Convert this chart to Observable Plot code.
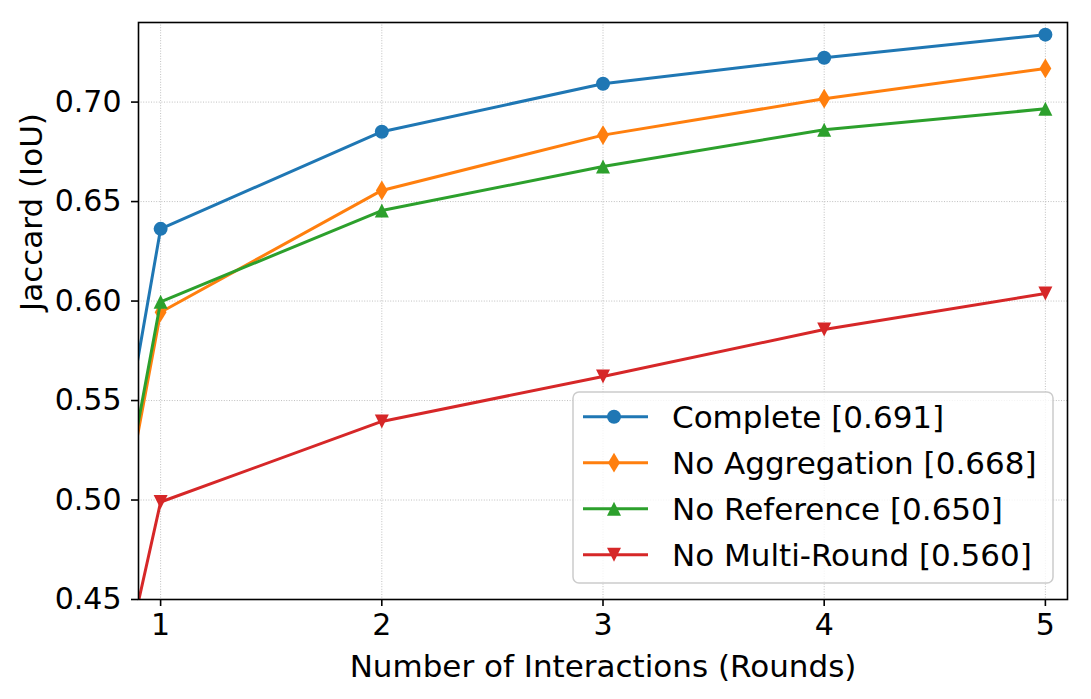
<!DOCTYPE html>
<html><head><meta charset="utf-8">
<script src="https://cdn.jsdelivr.net/npm/d3@7"></script>
<script src="https://cdn.jsdelivr.net/npm/@observablehq/plot@0.6"></script>
<style>
body{margin:0;background:#fff;font-family:"DejaVu Sans",sans-serif;}
#wrap{position:relative;width:1091px;height:699px;overflow:hidden;}
#legend{position:absolute;left:572px;top:391px;}
</style></head><body><div id="wrap"></div>
<script>
// ---- data ----
const rounds = [0, 1, 2, 3, 4, 5];
const seriesNames = ["Complete [0.691]", "No Aggregation [0.668]", "No Reference [0.650]", "No Multi-Round [0.560]"];
const complete      = [0, 0.6363, 0.6851, 0.7092, 0.7223, 0.7339];
const noAggregation = [0, 0.5944, 0.6556, 0.6834, 0.7017, 0.7169];
const noReference   = [0, 0.5996, 0.6455, 0.6676, 0.6861, 0.6966];
const noMultiRound  = [0, 0.4990, 0.5395, 0.5621, 0.5857, 0.6038];
const colors = ["#1f77b4", "#ff7f0e", "#2ca02c", "#d62728"];
const xTicks = [1, 2, 3, 4, 5];
const yTicks = [0.45, 0.50, 0.55, 0.60, 0.65, 0.70];
const xLabel = "Number of Interactions (Rounds)";
const yLabel = "Jaccard (IoU)";

// ---- symbols (matplotlib-like) ----
const symThinDiamond = {draw(ctx, size){const r=Math.sqrt(size/Math.PI);const h=Math.SQRT2*r,w=0.6*h;ctx.moveTo(0,-h);ctx.lineTo(w,0);ctx.lineTo(0,h);ctx.lineTo(-w,0);ctx.closePath();}};
const symTriUp = {draw(ctx, size){const r=Math.sqrt(size/Math.PI);ctx.moveTo(0,-r);ctx.lineTo(r,r);ctx.lineTo(-r,r);ctx.closePath();}};
const symTriDown = {draw(ctx, size){const r=Math.sqrt(size/Math.PI);ctx.moveTo(0,r);ctx.lineTo(r,-r);ctx.lineTo(-r,-r);ctx.closePath();}};
const symbols = [d3.symbolCircle, symThinDiamond, symTriUp, symTriDown];

const seriesValues = [complete, noAggregation, noReference, noMultiRound];
const data = seriesNames.flatMap((s, i) => rounds.map((r, j) => ({series: s, idx: i, round: r, value: seriesValues[i][j]})));

const seriesMarks = seriesNames.flatMap((s, i) => {
  const d = data.filter(e => e.idx === i);
  return [
    Plot.line(d, {x: "round", y: "value", stroke: colors[i], strokeWidth: 3, clip: true}),
    Plot.dot(d.filter(e => e.round > 0), {x: "round", y: "value", fill: colors[i], stroke: "none", symbol: symbols[i], r: 7, clip: true})
  ];
});

const chart = Plot.plot({
  width: 1091, height: 699,
  marginLeft: 138, marginRight: 24, marginTop: 22, marginBottom: 100,
  style: {fontFamily: "DejaVu Sans", fontSize: "30px", color: "black", background: "white", overflow: "visible"},
  x: {domain: [0.9, 5.1]},
  y: {domain: [0.45, 0.74]},
  marks: [
    Plot.gridX(xTicks, {stroke: "#b0b0b0", strokeOpacity: 1, strokeWidth: 0.8, strokeDasharray: "1,1.6"}),
    Plot.gridY(yTicks, {stroke: "#b0b0b0", strokeOpacity: 1, strokeWidth: 0.8, strokeDasharray: "1,1.6"}),
    ...seriesMarks,
    Plot.axisX(xTicks, {tickSize: 7, tickPadding: 7, strokeWidth: 1.6, tickFormat: d => String(d), label: null, fontSize: 30}),
    Plot.axisY(yTicks, {tickSize: 7, tickPadding: 10, strokeWidth: 1.6, tickFormat: d3.format(".2f"), label: null, fontSize: 30}),
    Plot.text([xLabel], {text: d => d, frameAnchor: "bottom", dy: 68, lineAnchor: "middle", fontSize: 31, fill: "black"}),
    Plot.text([yLabel], {text: d => d, frameAnchor: "left", dx: -106, rotate: -90, lineAnchor: "middle", fontSize: 31, fill: "black"}),
    Plot.frame({stroke: "black", strokeWidth: 1.6})
  ]
});
const wrap = document.getElementById("wrap");
wrap.appendChild(chart);

// ---- legend overlay ----
const lw = 481, lh = 192, rowH = 46, row0 = 25.7;
const leg = d3.select(wrap).append("svg").attr("id", "legend").attr("width", lw + 2).attr("height", lh + 2)
  .style("font-family", "DejaVu Sans").style("font-size", "31px");
leg.append("rect").attr("x", 1).attr("y", 1).attr("width", lw - 1).attr("height", lh - 1).attr("rx", 6)
  .attr("fill", "white").attr("fill-opacity", 0.8).attr("stroke", "#cccccc").attr("stroke-width", 1.5);
seriesNames.forEach((s, i) => {
  const y = row0 + i * rowH;
  const g = leg.append("g").attr("transform", `translate(0,${y})`);
  g.append("line").attr("x1", 11).attr("x2", 76).attr("y1", 0).attr("y2", 0).attr("stroke", colors[i]).attr("stroke-width", 3);
  g.append("path").attr("transform", "translate(42,0)").attr("d", d3.symbol(symbols[i], 49 * Math.PI)()).attr("fill", colors[i]);
  g.append("text").attr("x", 100).attr("y", 0).attr("dy", "0.35em").attr("fill", "black").text(s);
});
</script>
</body></html>
